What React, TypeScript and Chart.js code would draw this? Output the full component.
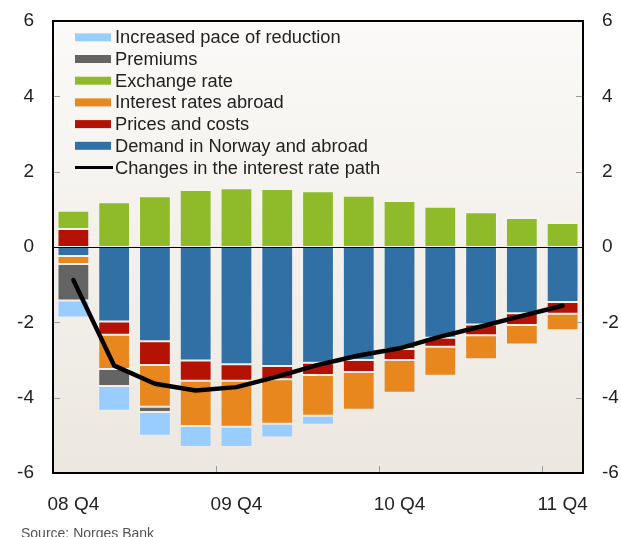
import React, { useEffect, useRef } from 'react';
import { Chart, registerables } from 'chart.js';

Chart.register(...registerables);

const quarters = ['08 Q4', '09 Q1', '09 Q2', '09 Q3', '09 Q4', '10 Q1', '10 Q2', '10 Q3', '10 Q4', '11 Q1', '11 Q2', '11 Q3', '11 Q4'];
const shownLabels = ['08 Q4', '09 Q4', '10 Q4', '11 Q4'];

const demand = [-0.24, -1.98, -2.5, -3.01, -3.11, -3.16, -3.07, -3.0, -2.71, -2.41, -2.06, -1.76, -1.46];
const prices = [0.48, -0.35, -0.63, -0.54, -0.44, -0.35, -0.33, -0.32, -0.29, -0.24, -0.28, -0.31, -0.31];
const interestAbroad = [-0.21, -0.91, -1.11, -1.2, -1.22, -1.18, -1.08, -1.0, -0.87, -0.77, -0.64, -0.52, -0.44];
const exchangeRate = [0.48, 1.19, 1.35, 1.51, 1.56, 1.54, 1.48, 1.36, 1.22, 1.07, 0.92, 0.77, 0.64];
const premiums = [-0.97, -0.45, -0.14, 0, 0, 0, 0, 0, 0, 0, 0, 0, 0];
const increasedPace = [-0.45, -0.66, -0.63, -0.56, -0.54, -0.37, -0.24, 0, 0, 0, 0, 0, 0];
const ratePath = [-0.88, -3.15, -3.63, -3.81, -3.72, -3.44, -3.13, -2.88, -2.69, -2.38, -2.11, -1.83, -1.56];

const yMin = -6;
const yMax = 6;
const yStep = 2;
const xTickBoundaries = [3.5, 7.5, 11.5];

const FONT = "'Liberation Sans', Arial, Helvetica, sans-serif";

const framePlugin = {
  id: 'frameDecor',
  beforeDraw(chart: any) {
    const { ctx, chartArea: a } = chart;
    const g = ctx.createLinearGradient(0, a.top, 0, a.bottom);
    g.addColorStop(0, '#fbfaf8');
    g.addColorStop(1, '#ece7e0');
    ctx.save();
    ctx.fillStyle = g;
    ctx.fillRect(a.left, a.top, a.right - a.left, a.bottom - a.top);
    ctx.restore();
  },
  afterDraw(chart: any) {
    const { ctx, chartArea: a, scales } = chart;
    const ys = scales.y;
    const xs = scales.x;
    ctx.save();
    // zero line
    const y0 = Math.round(ys.getPixelForValue(0)) + 0.5;
    ctx.strokeStyle = '#000';
    ctx.lineWidth = 1;
    ctx.beginPath();
    ctx.moveTo(a.left, y0);
    ctx.lineTo(a.right, y0);
    ctx.stroke();
    // inward tick marks
    ctx.strokeStyle = '#9a9a9a';
    ctx.lineWidth = 1;
    for (let v = yMin + yStep; v < yMax; v += yStep) {
      if (v === 0) continue;
      const py = Math.round(ys.getPixelForValue(v)) + 0.5;
      ctx.beginPath();
      ctx.moveTo(a.left, py);
      ctx.lineTo(a.left + 7, py);
      ctx.moveTo(a.right - 7, py);
      ctx.lineTo(a.right, py);
      ctx.stroke();
    }
    xTickBoundaries.forEach((b) => {
      const p0 = xs.getPixelForValue(Math.floor(b));
      const p1 = xs.getPixelForValue(Math.ceil(b));
      const px = Math.round((p0 + p1) / 2) + 0.5;
      ctx.beginPath();
      ctx.moveTo(px, a.bottom);
      ctx.lineTo(px, a.bottom - 7);
      ctx.stroke();
    });
    // frame
    ctx.strokeStyle = '#000';
    ctx.lineWidth = 2;
    ctx.strokeRect(a.left, a.top, a.right - a.left, a.bottom - a.top);
    // legend
    const ds = chart.data.datasets;
    const bars = ds.filter((d: any) => d.type !== 'line').slice().reverse();
    const lines = ds.filter((d: any) => d.type === 'line');
    const entries = [...bars, ...lines];
    ctx.font = `18.3px ${FONT}`;
    ctx.textBaseline = 'middle';
    ctx.textAlign = 'left';
    entries.forEach((d: any, i: number) => {
      const cy = 37.3 + i * 21.7;
      if (d.type === 'line') {
        ctx.strokeStyle = '#000';
        ctx.lineWidth = 3;
        ctx.beginPath();
        ctx.moveTo(75, cy);
        ctx.lineTo(113, cy);
        ctx.stroke();
      } else {
        ctx.fillStyle = d.backgroundColor;
        ctx.fillRect(75, cy - 4, 36, 8);
      }
      ctx.fillStyle = '#222';
      ctx.fillText(d.label, 115, cy + 1);
    });
    // source
    ctx.fillStyle = '#555';
    ctx.font = `14px ${FONT}`;
    ctx.textBaseline = 'alphabetic';
    ctx.fillText('Source: Norges Bank', 21, 538);
    ctx.restore();
  },
};

function barSet(label: string, data: number[], color: string) {
  return {
    type: 'bar' as const,
    label,
    data,
    backgroundColor: color,
    borderColor: 'rgba(255,255,255,0.18)',
    borderWidth: 1,
    borderSkipped: false,
    categoryPercentage: 1,
    barPercentage: 0.78,
    order: 1,
    yAxisID: 'y',
  };
}

export default function App() {
  const ref = useRef<HTMLCanvasElement | null>(null);
  useEffect(() => {
    if (!ref.current) return;
    const tickFont = { family: FONT, size: 19 };
    const fitY = (w: number) => (s: any) => {
      s.width = w;
      s.paddingTop = 0;
      s.paddingBottom = 0;
    };
    const chart = new Chart(ref.current, {
      type: 'bar',
      data: {
        labels: quarters,
        datasets: [
          barSet('Demand in Norway and abroad', demand, '#3070a5'),
          barSet('Prices and costs', prices, '#b31204'),
          barSet('Interest rates abroad', interestAbroad, '#e8871e'),
          barSet('Exchange rate', exchangeRate, '#8fbb2b'),
          barSet('Premiums', premiums, '#646464'),
          barSet('Increased pace of reduction', increasedPace, '#99ccff'),
          {
            type: 'line' as const,
            label: 'Changes in the interest rate path',
            data: ratePath,
            borderColor: '#000',
            borderWidth: 4.5,
            borderCapStyle: 'round',
            borderJoinStyle: 'round',
            pointRadius: 0,
            tension: 0,
            fill: false,
            stack: 'path',
            order: 0,
            yAxisID: 'y',
          } as any,
        ],
      },
      options: {
        animation: false,
        responsive: false,
        layout: { padding: { top: 21, left: 0, right: 0, bottom: 0 } },
        plugins: { legend: { display: false }, tooltip: { enabled: false } },
        scales: {
          x: {
            type: 'category',
            stacked: true,
            offset: true,
            grid: { display: false, drawTicks: false },
            border: { display: false },
            ticks: {
              autoSkip: false,
              maxRotation: 0,
              padding: 20,
              color: '#222',
              font: tickFont,
              callback: (_v: any, i: number) => (shownLabels.includes(quarters[i]) ? quarters[i] : ''),
            },
            afterFit: (s: any) => {
              s.height = 64;
              s.paddingLeft = 0;
              s.paddingRight = 0;
            },
          },
          y: {
            position: 'left',
            stacked: true,
            min: yMin,
            max: yMax,
            grid: { display: false, drawTicks: false },
            border: { display: false },
            ticks: { stepSize: yStep, padding: 19, color: '#222', font: tickFont },
            afterFit: fitY(53),
          },
          y2: {
            position: 'right',
            min: yMin,
            max: yMax,
            grid: { display: false, drawTicks: false },
            border: { display: false },
            ticks: { stepSize: yStep, padding: 19, color: '#222', font: tickFont },
            afterFit: fitY(38),
          },
        },
      } as any,
      plugins: [framePlugin],
    });
    return () => chart.destroy();
  }, []);
  return (
    <div style={{ position: 'absolute', left: 0, top: 0, width: 621, height: 537, background: '#fff' }}>
      <canvas ref={ref} width={621} height={537} style={{ display: 'block' }} />
    </div>
  );
}
